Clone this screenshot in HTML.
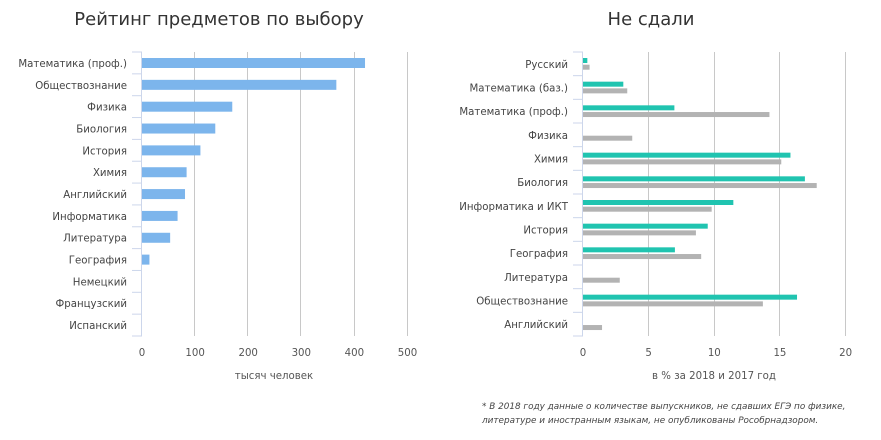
<!DOCTYPE html>
<html><head><meta charset="utf-8"><style>body{margin:0;background:#fff}svg{display:block}text{font-family:"DejaVu Sans","Liberation Sans",sans-serif}</style></head><body>
<svg width="881" height="440" xmlns="http://www.w3.org/2000/svg">
<rect width="881" height="440" fill="#fff"/>
<text x="219" y="25" font-size="18" fill="#333" text-anchor="middle">Рейтинг предметов по выбору</text>
<text x="651" y="25" font-size="18" fill="#333" text-anchor="middle">Не сдали</text>
<g stroke="#c8c8c8" stroke-width="1">
<line x1="194.5" y1="52" x2="194.5" y2="336"/><line x1="247.5" y1="52" x2="247.5" y2="336"/><line x1="300.5" y1="52" x2="300.5" y2="336"/><line x1="354.5" y1="52" x2="354.5" y2="336"/><line x1="407.5" y1="52" x2="407.5" y2="336"/>
<line x1="648.5" y1="52" x2="648.5" y2="336"/><line x1="714.5" y1="52" x2="714.5" y2="336"/><line x1="779.5" y1="52" x2="779.5" y2="336"/><line x1="845.5" y1="52" x2="845.5" y2="336"/>
</g>
<g stroke="#ccd6eb" stroke-width="1">
<line x1="141.5" y1="52" x2="141.5" y2="336"/><line x1="582.5" y1="52" x2="582.5" y2="336"/>
</g>
<script>
(function(){var s="http://www.w3.org/2000/svg",svg=document.querySelector('svg');
function el(t,a,txt){var e=document.createElementNS(s,t);for(var k in a)e.setAttribute(k,a[k]);if(txt)e.textContent=txt;svg.appendChild(e);return e;}
var F=10.2;
var L=[["Математика (проф.)",420],["Обществознание",366],["Физика",170],["Биология",138],["История",110],["Химия",84],["Английский",81],["Информатика",67],["Литература",53],["География",14],["Немецкий",0],["Французский",0],["Испанский",0]];
var b=284/13;
for(var i=0;i<=13;i++){el('line',{x1:132,x2:142,y1:52+i*b,y2:52+i*b,stroke:'#ccd6eb'});}
L.forEach(function(d,i){var y=52+i*b;el('text',{x:127,y:y+b/2+4,'font-size':F,fill:'#444','text-anchor':'end'},d[0]);if(d[1])el('rect',{x:142,y:y+6,width:d[1]*0.531,height:10,fill:'#7cb5ec'});});
[0,100,200,300,400,500].forEach(function(v){el('text',{x:142+v*0.531,y:356,'font-size':F,fill:'#555','text-anchor':'middle'},String(v));});
el('text',{x:274,y:379,'font-size':F,fill:'#555','text-anchor':'middle'},'тысяч человек');
var R=[["Русский",0.33,0.5],["Математика (баз.)",3.07,3.37],["Математика (проф.)",6.96,14.2],["Физика",0,3.75],["Химия",15.8,15.1],["Биология",16.9,17.8],["Информатика и ИКТ",11.45,9.8],["История",9.5,8.6],["География",7.0,9.0],["Литература",0,2.8],["Обществознание",16.3,13.7],["Английский",0,1.45]];
var c=284/12,k=13.13;
for(var i=0;i<=12;i++){el('line',{x1:573,x2:583,y1:52+i*c,y2:52+i*c,stroke:'#ccd6eb'});}
R.forEach(function(d,i){var y=52+i*c;el('text',{x:568,y:y+c/2+4,'font-size':F,fill:'#444','text-anchor':'end'},d[0]);if(d[1])el('rect',{x:583,y:y+6,width:d[1]*k,height:5,fill:'#20c4b0'});el('rect',{x:583,y:y+12.7,width:d[2]*k,height:5,fill:'#b3b3b3'});});
[0,5,10,15,20].forEach(function(v){el('text',{x:583+v*k,y:356,'font-size':F,fill:'#555','text-anchor':'middle'},String(v));});
el('text',{x:714,y:379,'font-size':F,fill:'#555','text-anchor':'middle'},'в % за 2018 и 2017 год');
el('text',{x:482,y:409,'font-size':8.85,fill:'#444','font-style':'italic'},'* В 2018 году данные о количестве выпускников, не сдавших ЕГЭ по физике,');
el('text',{x:482,y:423,'font-size':8.85,fill:'#444','font-style':'italic'},'литературе и иностранным языкам, не опубликованы Рособрнадзором.');
})();
</script>
</svg>
</body></html>
